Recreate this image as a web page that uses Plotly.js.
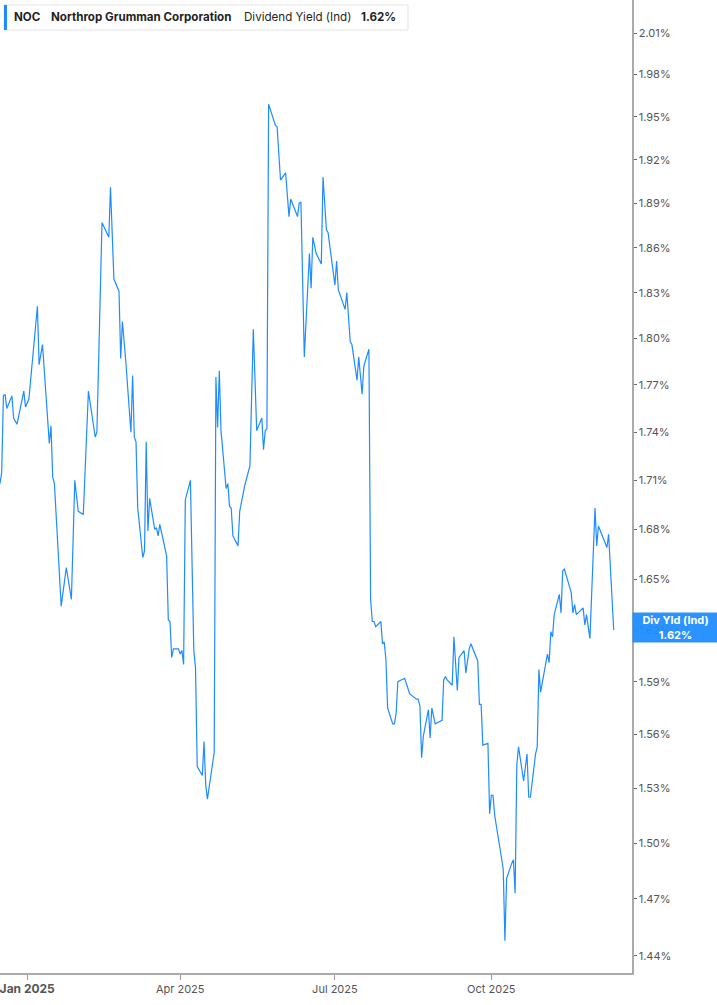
<!DOCTYPE html>
<html>
<head>
<meta charset="utf-8">
<script src="https://cdn.plot.ly/plotly-3.0.1.min.js"></script>
<style>
  html, body { margin: 0; padding: 0; background: #fff; }
  #yield-chart { width: 717px; height: 1005px; }
</style>
</head>
<body>
<div id="yield-chart"></div>
<script>
const tradeDates = [
  "2024-12-16", "2024-12-17", "2024-12-18", "2024-12-19", "2024-12-20", "2024-12-23", "2024-12-24", "2024-12-26",
  "2024-12-30", "2024-12-31", "2025-01-02", "2025-01-07", "2025-01-08", "2025-01-10", "2025-01-14", "2025-01-15",
  "2025-01-16", "2025-01-17", "2025-01-21", "2025-01-24", "2025-01-27", "2025-01-29", "2025-01-31", "2025-02-03",
  "2025-02-06", "2025-02-10", "2025-02-11", "2025-02-14", "2025-02-18", "2025-02-19", "2025-02-21", "2025-02-24",
  "2025-02-25", "2025-02-26", "2025-02-28", "2025-03-03", "2025-03-04", "2025-03-05", "2025-03-06", "2025-03-07",
  "2025-03-10", "2025-03-11", "2025-03-12", "2025-03-13", "2025-03-14", "2025-03-17", "2025-03-18", "2025-03-19",
  "2025-03-20", "2025-03-24", "2025-03-25", "2025-03-26", "2025-03-27", "2025-03-28", "2025-03-31", "2025-04-01",
  "2025-04-02", "2025-04-03", "2025-04-04", "2025-04-07", "2025-04-09", "2025-04-10", "2025-04-11", "2025-04-14",
  "2025-04-15", "2025-04-16", "2025-04-17", "2025-04-21", "2025-04-22", "2025-04-23", "2025-04-24", "2025-04-25",
  "2025-04-28", "2025-04-29", "2025-04-30", "2025-05-01", "2025-05-02", "2025-05-05", "2025-05-06", "2025-05-09",
  "2025-05-12", "2025-05-14", "2025-05-16", "2025-05-19", "2025-05-20", "2025-05-21", "2025-05-22", "2025-05-23",
  "2025-05-27", "2025-05-28", "2025-05-30", "2025-06-02", "2025-06-04", "2025-06-05", "2025-06-09", "2025-06-10",
  "2025-06-11", "2025-06-13", "2025-06-16", "2025-06-17", "2025-06-18", "2025-06-20", "2025-06-23", "2025-06-24",
  "2025-06-26", "2025-06-27", "2025-07-01", "2025-07-02", "2025-07-03", "2025-07-07", "2025-07-08", "2025-07-10",
  "2025-07-11", "2025-07-14", "2025-07-15", "2025-07-17", "2025-07-18", "2025-07-21", "2025-07-22", "2025-07-23",
  "2025-07-24", "2025-07-25", "2025-07-28", "2025-07-29", "2025-07-30", "2025-07-31", "2025-08-01", "2025-08-04",
  "2025-08-05", "2025-08-06", "2025-08-07", "2025-08-11", "2025-08-14", "2025-08-18", "2025-08-19", "2025-08-20",
  "2025-08-21", "2025-08-22", "2025-08-25", "2025-08-26", "2025-08-27", "2025-08-29", "2025-09-02", "2025-09-03",
  "2025-09-04", "2025-09-05", "2025-09-08", "2025-09-09", "2025-09-11", "2025-09-12", "2025-09-15", "2025-09-16",
  "2025-09-18", "2025-09-19", "2025-09-23", "2025-09-24", "2025-09-25", "2025-09-26", "2025-09-29", "2025-09-30",
  "2025-10-01", "2025-10-02", "2025-10-03", "2025-10-07", "2025-10-08", "2025-10-09", "2025-10-10", "2025-10-13",
  "2025-10-14", "2025-10-15", "2025-10-16", "2025-10-17", "2025-10-20", "2025-10-22", "2025-10-23", "2025-10-24",
  "2025-10-27", "2025-10-28", "2025-10-29", "2025-10-30", "2025-11-03", "2025-11-04", "2025-11-05", "2025-11-06",
  "2025-11-07", "2025-11-10", "2025-11-11", "2025-11-12", "2025-11-13", "2025-11-17", "2025-11-18", "2025-11-19",
  "2025-11-20", "2025-11-24", "2025-11-25", "2025-11-26", "2025-11-28", "2025-12-01", "2025-12-02", "2025-12-03",
  "2025-12-08", "2025-12-09", "2025-12-12",
];

// dividend yield (ind), in percent
const divYield = [
  1.708, 1.715, 1.763, 1.764, 1.755, 1.763, 1.749, 1.745,
  1.766, 1.756, 1.761, 1.821, 1.783, 1.796, 1.733, 1.744,
  1.712, 1.708, 1.634, 1.657, 1.638, 1.710, 1.691, 1.689,
  1.766, 1.737, 1.740, 1.877, 1.867, 1.901, 1.839, 1.831,
  1.787, 1.811, 1.785, 1.740, 1.776, 1.737, 1.734, 1.693,
  1.663, 1.667, 1.734, 1.679, 1.699, 1.680, 1.681, 1.676,
  1.683, 1.664, 1.626, 1.625, 1.604, 1.609, 1.609, 1.606,
  1.608, 1.600, 1.698, 1.710, 1.608, 1.598, 1.542, 1.537,
  1.556, 1.532, 1.524, 1.550, 1.775, 1.743, 1.779, 1.741,
  1.705, 1.708, 1.694, 1.693, 1.676, 1.670, 1.691, 1.707,
  1.719, 1.806, 1.741, 1.749, 1.729, 1.741, 1.742, 1.959,
  1.944, 1.943, 1.906, 1.911, 1.881, 1.893, 1.881, 1.890,
  1.891, 1.788, 1.856, 1.833, 1.867, 1.856, 1.849, 1.908,
  1.872, 1.870, 1.835, 1.851, 1.832, 1.819, 1.830, 1.798,
  1.796, 1.773, 1.788, 1.764, 1.782, 1.793, 1.638, 1.625,
  1.625, 1.622, 1.625, 1.612, 1.613, 1.603, 1.575, 1.566,
  1.566, 1.572, 1.590, 1.592, 1.583, 1.580, 1.580, 1.576,
  1.547, 1.559, 1.574, 1.558, 1.575, 1.566, 1.568, 1.591,
  1.593, 1.591, 1.588, 1.616, 1.585, 1.604, 1.608, 1.595,
  1.609, 1.612, 1.602, 1.577, 1.577, 1.554, 1.555, 1.516,
  1.526, 1.526, 1.515, 1.491, 1.486, 1.448, 1.481, 1.489,
  1.491, 1.473, 1.543, 1.553, 1.534, 1.549, 1.525, 1.525,
  1.549, 1.553, 1.597, 1.584, 1.606, 1.601, 1.619, 1.616,
  1.629, 1.641, 1.630, 1.655, 1.656, 1.642, 1.630, 1.635,
  1.629, 1.633, 1.623, 1.629, 1.615, 1.693, 1.670, 1.682,
  1.669, 1.677, 1.620,
];

const yTickVals = [1.44, 1.47, 1.50, 1.53, 1.56, 1.59, 1.62, 1.65, 1.68, 1.71, 1.74, 1.77, 1.80, 1.83, 1.86, 1.89, 1.92, 1.95, 1.98, 2.01];
const xTickVals = ["2025-01-01", "2025-04-01", "2025-07-01", "2025-10-01"];
const xTickText = ['<span style="font-size:12px"><b>Jan 2025</b></span>', "Apr 2025", "Jul 2025", "Oct 2025"];

const lastYield = divYield[divYield.length - 1];
const blue = "#1e8cff";

const yieldTrace = {
  x: tradeDates,
  y: divYield,
  type: "scatter",
  mode: "lines",
  line: { color: blue, width: 1.2 },
  hoverinfo: "skip",
};

// header pieces, positioned in pixels from the top-left of the plot
const headerText = [
  { text: "<b>NOC</b>", shift: 12 },
  { text: "<b>Northrop Grumman Corporation</b>", shift: 49 },
  { text: "Dividend Yield (Ind)", shift: 242 },
  { text: "<b>" + lastYield.toFixed(2) + "%</b>", shift: 359 },
];

const annotations = headerText.map((h) => ({
  xref: "paper", yref: "paper", x: 0, y: 1,
  xshift: h.shift, yshift: -17,
  xanchor: "left", yanchor: "middle",
  text: h.text, showarrow: false,
  font: { family: "Inter, sans-serif", size: 11.6, color: "#1f1f1f" },
}));

// last value badge on the right axis (the 1.62% tick shows faintly behind it)
annotations.push({
  xref: "paper", yref: "y", x: 1, y: Math.log10(lastYield),
  xanchor: "left", yanchor: "middle", yshift: 3,
  text: "<b>Div Yld (Ind)</b><br><b>" + lastYield.toFixed(2) + "%</b>",
  showarrow: false, align: "center",
  width: 81, height: 25, borderpad: 2,
  bgcolor: "rgba(30,140,255,0.94)",
  font: { family: "Inter, sans-serif", size: 11, color: "#fff" },
});

const chartLayout = {
  width: 717,
  height: 1005,
  margin: { l: 0, r: 85, t: 0, b: 32 },
  paper_bgcolor: "#fff",
  plot_bgcolor: "#fff",
  showlegend: false,
  font: { family: "Inter, sans-serif", size: 11, color: "#555" },
  xaxis: {
    type: "date",
    range: ["2024-12-16", "2025-12-22 18:00"],
    tickvals: xTickVals,
    ticktext: xTickText,
    ticklabeloverflow: "allow",
    ticks: "outside",
    ticklen: 5,
    tickcolor: "#999",
    showgrid: false,
    zeroline: false,
    showline: true,
    linecolor: "#aaa",
    linewidth: 1.5,
    tickfont: { size: 11, color: "#555" },
  },
  yaxis: {
    type: "log",
    side: "right",
    range: [0.155694, 0.308374],
    tickvals: yTickVals,
    ticktext: yTickVals.map((v) => v.toFixed(2) + "%"),
    ticks: "outside",
    ticklen: 3,
    tickcolor: "#666",
    showgrid: false,
    zeroline: false,
    showline: true,
    linecolor: "#aaa",
    linewidth: 1.5,
    tickfont: { size: 11, color: "#555" },
  },
  shapes: [
    {
      type: "rect", xref: "paper", yref: "paper",
      xsizemode: "pixel", ysizemode: "pixel", xanchor: 0, yanchor: 1,
      x0: 4, x1: 408, y0: -5, y1: -30,
      fillcolor: "#fff", line: { color: "#e3e3e3", width: 1 },
    },
    {
      type: "rect", xref: "paper", yref: "paper",
      xsizemode: "pixel", ysizemode: "pixel", xanchor: 0, yanchor: 1,
      x0: 4, x1: 7, y0: -5, y1: -30,
      fillcolor: blue, line: { width: 0 },
    },
  ],
  annotations: annotations,
};

const chartConfig = {
  displayModeBar: false,
  staticPlot: true,
};

Plotly.newPlot("yield-chart", [yieldTrace], chartLayout, chartConfig);
</script>
</body>
</html>
